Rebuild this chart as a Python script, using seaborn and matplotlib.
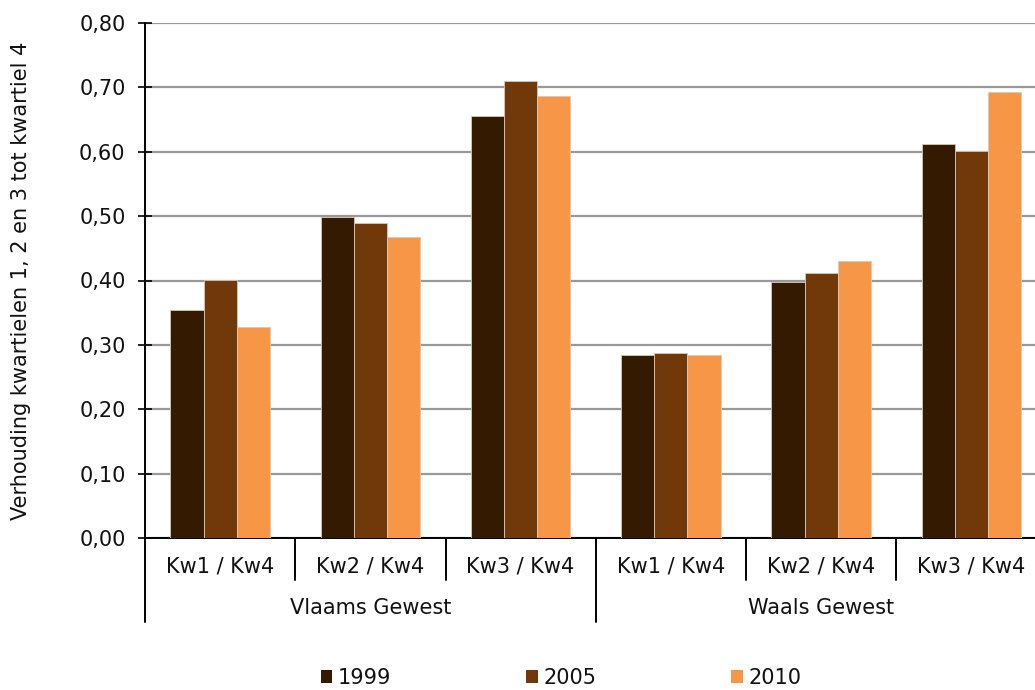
import matplotlib
matplotlib.use("Agg")
import matplotlib.pyplot as plt
import matplotlib.transforms as mtransforms
from matplotlib.patches import Patch
from matplotlib.ticker import FuncFormatter, MultipleLocator
import seaborn as sns
import pandas as pd

regions = ["Vlaams Gewest", "Waals Gewest"]
ratios = ["Kw1 / Kw4", "Kw2 / Kw4", "Kw3 / Kw4"]
years = ["1999", "2005", "2010"]
values_1999 = [0.354, 0.498, 0.655, 0.285, 0.398, 0.612]
values_2005 = [0.401, 0.489, 0.710, 0.288, 0.411, 0.601]
values_2010 = [0.328, 0.467, 0.687, 0.284, 0.430, 0.693]
colors = ["#331A00", "#71380A", "#F79646"]
ylabel = "Verhouding kwartielen 1, 2 en 3 tot kwartiel 4"

keys = [f"{r}|{k}" for r in regions for k in ratios]
rows = []
for y, vals in zip(years, [values_1999, values_2005, values_2010]):
    for key, v in zip(keys, vals):
        rows.append({"cat": key, "year": y, "value": v})
df = pd.DataFrame(rows)

sns.set_theme(style="white")
plt.rcParams["font.family"] = ["DejaVu Sans"]
FS = 15

fig = plt.figure(figsize=(10.35, 6.9), dpi=100)
ax = fig.add_axes([145 / 1035, 1 - 538 / 690, (1046.5 - 145) / 1035, (538 - 23) / 690])

sns.barplot(data=df, x="cat", y="value", hue="year", order=keys, hue_order=years,
            palette=colors, saturation=1, width=0.663, gap=0, edgecolor="#D9C8B8",
            linewidth=0.6, ax=ax, legend=False, zorder=3)

ax.set_xlim(-0.5, len(keys) - 0.5)
ax.set_ylim(0, 0.8)
ax.yaxis.set_major_locator(MultipleLocator(0.1))
ax.yaxis.set_major_formatter(FuncFormatter(lambda v, p: f"{v:.2f}".replace(".", ",")))
ax.grid(axis="y", color="#999999", linewidth=1.6, zorder=0)
ax.set_axisbelow(True)
for s in ["top", "right"]:
    ax.spines[s].set_visible(False)
for s in ["left", "bottom"]:
    ax.spines[s].set_color("black")
    ax.spines[s].set_linewidth(1.4)
ax.tick_params(axis="y", which="major", left=True, direction="inout", length=10, width=1.2,
               color="black", labelsize=FS, pad=9, labelcolor="#111111")
ax.set_xticks([])
ax.set_xlabel("")
ax.set_ylabel(ylabel, fontsize=FS, color="#111111")
ax.yaxis.set_label_coords((31 - 145) / 901.5, 0.5)

trans = mtransforms.blended_transform_factory(ax.transData, ax.transAxes)
axh = (538 - 23)
def yax(py):
    return (538 - py) / axh

# category labels and separators
for i, key in enumerate(keys):
    ax.text(i, yax(566), key.split("|")[1], transform=trans, ha="center", va="center",
            fontsize=FS, color="#111111")
for b in range(len(keys) + 1):
    xb = b - 0.5
    if b % 3 == 0:
        ax.plot([xb, xb], [0, yax(622)], transform=trans, color="black", lw=1.4, clip_on=False)
    else:
        ax.plot([xb, xb], [0, yax(580)], transform=trans, color="black", lw=1.4, clip_on=False)
for g, r in enumerate(regions):
    ax.text(g * 3 + 1, yax(608), r, transform=trans, ha="center", va="center",
            fontsize=FS, color="#111111")

handles = [Patch(facecolor=c, edgecolor="none", label=y) for c, y in zip(colors, years)]
fig.legend(handles=handles, loc="center", bbox_to_anchor=(561 / 1035, 1 - 678 / 690),
           ncol=3, frameon=False, fontsize=FS, handlelength=0.55, handleheight=0.55,
           handletextpad=0.25, columnspacing=6.5, labelcolor="#111111")

fig.savefig("out.png", dpi=100)
